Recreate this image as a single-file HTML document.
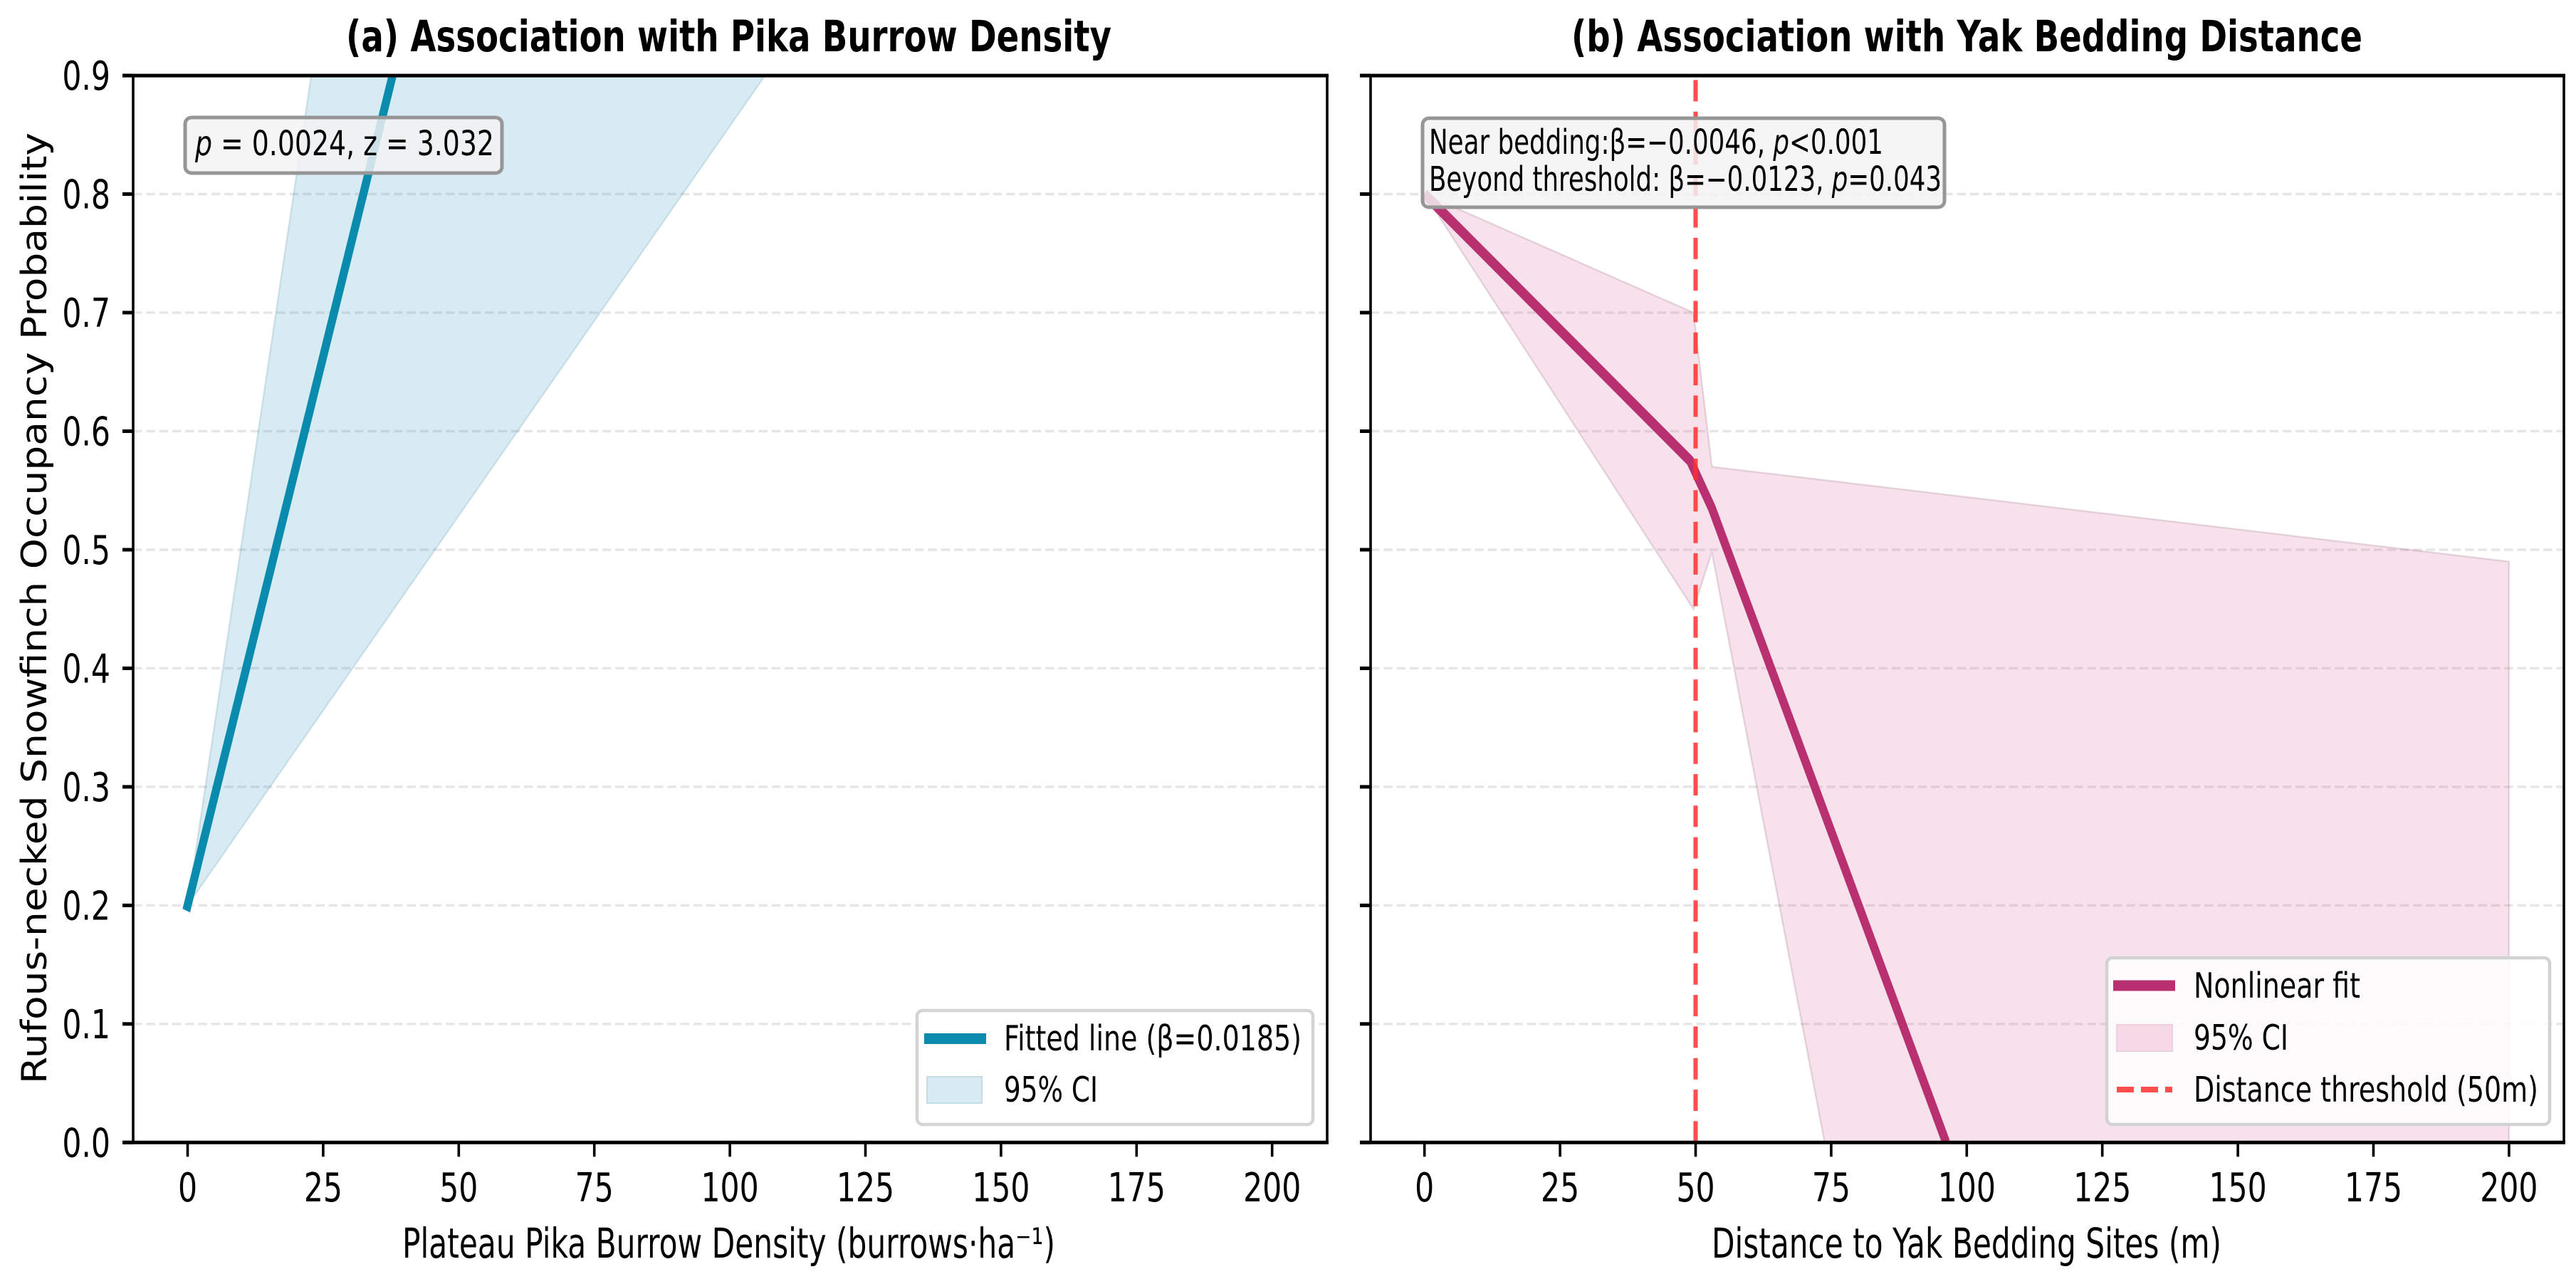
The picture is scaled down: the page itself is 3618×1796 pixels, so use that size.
<!DOCTYPE html>
<html lang="en">
<head>
<meta charset="utf-8">
<title>Rufous-necked Snowfinch Occupancy Associations</title>
<style>
html,body{margin:0;padding:0;background:#fff;width:3618px;height:1796px;overflow:hidden;}
svg{display:block;overflow:hidden;}
text{font-family:"DejaVu Sans","Liberation Sans",sans-serif;fill:#000;}
.ttl{font-size:61px;font-weight:bold;}
.axl{font-size:58px;}
.tick{font-size:56px;}
.ann{font-size:48px;}
.leg{font-size:49px;}
</style>
</head>
<body>
<svg id="chart" xmlns="http://www.w3.org/2000/svg" width="3618" height="1796" viewBox="0 0 3618 1796">
  <defs>
    <clipPath id="clip-a"><rect x="187" y="106" width="1677" height="1498"/></clipPath>
    <clipPath id="clip-b"><rect x="1925" y="106" width="1676" height="1498"/></clipPath>
  </defs>
  <rect width="3618" height="1796" fill="#fff"/>
  <g id="panel-a"></g>
  <g id="panel-b"></g>

  <text class="ttl" x="486" y="72" textLength="1075" lengthAdjust="spacingAndGlyphs">(a) Association with Pika Burrow Density</text>
  <text class="ttl" x="2207" y="72" textLength="1111" lengthAdjust="spacingAndGlyphs">(b) Association with Yak Bedding Distance</text>

  <text class="axl" x="565" y="1766" textLength="917" lengthAdjust="spacingAndGlyphs">Plateau Pika Burrow Density (burrows·ha⁻¹)</text>
  <text class="axl" x="2404" y="1766" textLength="716" lengthAdjust="spacingAndGlyphs">Distance to Yak Bedding Sites (m)</text>
  <text font-size="49" transform="translate(65,1522) rotate(-90)" textLength="1336" lengthAdjust="spacingAndGlyphs">Rufous-necked Snowfinch Occupancy Probability</text>

  <g id="overlay-a">
    <rect x="260" y="165" width="445" height="78" rx="9" fill="#f3f3f3" fill-opacity="0.84" stroke="#969696" stroke-width="5"/>
    <text class="ann" font-size="49" x="274" y="218" textLength="420" lengthAdjust="spacingAndGlyphs"><tspan font-style="italic">p</tspan> = 0.0024, z = 3.032</text>

    <rect x="1288" y="1419" width="556" height="160" rx="8" fill="#fff" fill-opacity="0.9" stroke="#d4d4d4" stroke-width="4.5"/>
    <rect x="1298" y="1451" width="87" height="15" fill="#0A8BAE"/>
    <rect x="1302" y="1512" width="77" height="37" fill="#d8ebf3" stroke="#c2dde5" stroke-width="2"/>
    <text class="leg" x="1410" y="1475" textLength="418" lengthAdjust="spacingAndGlyphs">Fitted line (β=0.0185)</text>
    <text class="leg" x="1410" y="1547" textLength="132" lengthAdjust="spacingAndGlyphs">95% CI</text>
  </g>

  <g id="overlay-b">
    <rect x="1998" y="166" width="733" height="125" rx="9" fill="#f3f3f3" fill-opacity="0.84" stroke="#969696" stroke-width="5"/>
    <text class="ann" x="2007" y="216" textLength="638" lengthAdjust="spacingAndGlyphs">Near bedding:β=−0.0046, <tspan font-style="italic">p</tspan>&lt;0.001</text>
    <text class="ann" x="2007" y="268" textLength="720" lengthAdjust="spacingAndGlyphs">Beyond threshold: β=−0.0123, <tspan font-style="italic">p</tspan>=0.043</text>

    <rect x="2959" y="1345" width="622" height="234" rx="8" fill="#fff" fill-opacity="0.85" stroke="#d2d2d4" stroke-width="4.5"/>
    <rect x="2968" y="1376.5" width="87" height="15" fill="#B8306F"/>
    <rect x="2973" y="1439" width="78" height="37" fill="#f6d9e6" stroke="#ecd0dc" stroke-width="2"/>
    <line x1="2973" y1="1530" x2="3051" y2="1530" stroke="#ff4d4d" stroke-width="8" stroke-dasharray="24 10"/>
    <text class="leg" x="3081" y="1401" textLength="234" lengthAdjust="spacingAndGlyphs">Nonlinear fit</text>
    <text class="leg" x="3081" y="1474" textLength="133" lengthAdjust="spacingAndGlyphs">95% CI</text>
    <text class="leg" x="3081" y="1547" textLength="484" lengthAdjust="spacingAndGlyphs">Distance threshold (50m)</text>
  </g>
</svg>

<script>
var xTickLabels = [0, 25, 50, 75, 100, 125, 150, 175, 200];
var yTickLabels = ['0.0', '0.1', '0.2', '0.3', '0.4', '0.5', '0.6', '0.7', '0.8', '0.9'];
var yTickValues = [0, 0.1, 0.2, 0.3, 0.4, 0.5, 0.6, 0.7, 0.8, 0.9];

var pikaX = [0, 37.8];
var pikaFit = [0.2, 0.9];
var pikaCiUpperX = [0, 22.8];
var pikaCiUpper = [0.2, 0.9];
var pikaCiLowerX = [0, 106.5];
var pikaCiLower = [0.2, 0.9];

var yakX = [0, 49, 53, 96.2];
var yakFit = [0.8, 0.575, 0.535, 0];
var yakCiUpperX = [0, 49.6, 53, 200];
var yakCiUpper = [0.8, 0.7, 0.57, 0.49];
var yakCiLowerX = [0, 49.6, 53, 73.8, 200];
var yakCiLower = [0.8, 0.45, 0.498, 0, 0];
var yakThreshold = [50];

var NS = 'http://www.w3.org/2000/svg';
var SQUEEZE = 0.72;
function yScale(v) { return 1604.3 - v * 1664.7; }
function xScaleA(v) { return 263.5 + v * 7.616; }
function xScaleB(v) { return 2000.7 + v * 7.616; }

function make(tag, attrs, parent) {
  var el = document.createElementNS(NS, tag);
  for (var k in attrs) { el.setAttribute(k, attrs[k]); }
  parent.appendChild(el);
  return el;
}
function linePoints(xs, ys, xf) {
  return xs.map(function (x, i) { return (xf(x) / SQUEEZE) + ',' + yScale(ys[i]); });
}
function bandPoints(upX, up, lowX, low, xf) {
  var top = upX.map(function (x, i) { return xf(x) + ',' + yScale(up[i]); });
  var bottom = lowX.map(function (x, i) { return xf(x) + ',' + yScale(low[i]); }).reverse();
  return top.concat(bottom).join(' ');
}

function drawAxes(root, left, right, xf, showLabels, prefix) {
  yTickValues.forEach(function (v, i) {
    if (v > 0 && v < 0.9) {
      var g = make('line', {x1: left, x2: right, y1: yScale(v), y2: yScale(v), stroke: '#e6e6e6', 'stroke-width': 3.5, 'stroke-dasharray': '12.5 5.8'}, root);
      
      
    }
  });
}

function drawFrame(root, left, right, xf, showLabels, prefix) {
  var top = yScale(0.9), bottom = yScale(0);
  var sl = make('line', {x1: left, x2: left, y1: top, y2: bottom, stroke: '#000', 'stroke-width': 3.6}, root);
  
  
  var sr = make('line', {x1: right, x2: right, y1: top, y2: bottom, stroke: '#000', 'stroke-width': 3.6}, root);
  
  
  var st = make('line', {x1: left - 15, x2: right + 2, y1: top, y2: top, stroke: '#000', 'stroke-width': 5}, root);
  
  
  var sb = make('line', {x1: left - 15, x2: right + 2, y1: bottom, y2: bottom, stroke: '#000', 'stroke-width': 5}, root);
  
  

  xTickLabels.forEach(function (v) {
    var x = xf(v);
    var t = make('line', {x1: x, x2: x, y1: bottom, y2: bottom + 20, stroke: '#000', 'stroke-width': 3.6}, root);
    
    
    var lab = make('text', {'class': 'tick', 'text-anchor': 'middle', transform: 'translate(' + x + ',1687) scale(0.76,1)'}, root);
    lab.textContent = v;
    
    
  });
  yTickValues.forEach(function (v, i) {
    var y = yScale(v);
    var t = make('line', {x1: left - 15, x2: left, y1: y, y2: y, stroke: '#000', 'stroke-width': 5}, root);
    
    
    if (showLabels) {
      var lab = make('text', {'class': 'tick', 'text-anchor': 'end', transform: 'translate(155,' + (y + 20) + ') scale(0.76,1)'}, root);
      lab.textContent = yTickLabels[i];
      
      
    }
  });
}

var panelA = document.getElementById('panel-a');
var panelB = document.getElementById('panel-b');

drawAxes(panelA, 187, 1864, xScaleA, true, 'panel-a');
var clipA = make('g', {'clip-path': 'url(#clip-a)'}, panelA);


var bandA = make('polygon', {points: bandPoints(pikaCiUpperX, pikaCiUpper, pikaCiLowerX, pikaCiLower, xScaleA), fill: 'rgb(0,125,170)', 'fill-opacity': 0.155, stroke: 'rgb(0,90,120)', 'stroke-opacity': 0.13, 'stroke-width': 2.5}, clipA);


var squeezeA = make('g', {transform: 'scale(' + SQUEEZE + ',1)'}, clipA);


var lineA = make('polyline', {points: linePoints(pikaX, pikaFit, xScaleA).join(' '), fill: 'none', stroke: '#0A8BAE', 'stroke-width': 15.5, 'stroke-linecap': 'square'}, squeezeA);


drawFrame(panelA, 187, 1864, xScaleA, true, 'panel-a');

drawAxes(panelB, 1925, 3601, xScaleB, false, 'panel-b');
var clipB = make('g', {'clip-path': 'url(#clip-b)'}, panelB);


var bandB = make('polygon', {points: bandPoints(yakCiUpperX, yakCiUpper, yakCiLowerX, yakCiLower, xScaleB), fill: 'rgb(205,70,130)', 'fill-opacity': 0.155, stroke: 'rgb(120,60,90)', 'stroke-opacity': 0.17, 'stroke-width': 2.5}, clipB);


var squeezeB = make('g', {transform: 'scale(' + SQUEEZE + ',1)'}, clipB);


var lineB = make('polyline', {points: linePoints(yakX, yakFit, xScaleB).join(' '), fill: 'none', stroke: '#B8306F', 'stroke-width': 15.5, 'stroke-linejoin': 'round'}, squeezeB);


var thresholdX = xScaleB(yakThreshold[0]) / SQUEEZE;
var thr = make('line', {x1: thresholdX, x2: thresholdX, y1: yScale(0), y2: yScale(0.9), stroke: '#ff2f2f', 'stroke-opacity': 0.85, 'stroke-width': 8.4, 'stroke-dasharray': '30 14.3'}, squeezeB);


drawFrame(panelB, 1925, 3601, xScaleB, false, 'panel-b');
</script>
</body>
</html>
